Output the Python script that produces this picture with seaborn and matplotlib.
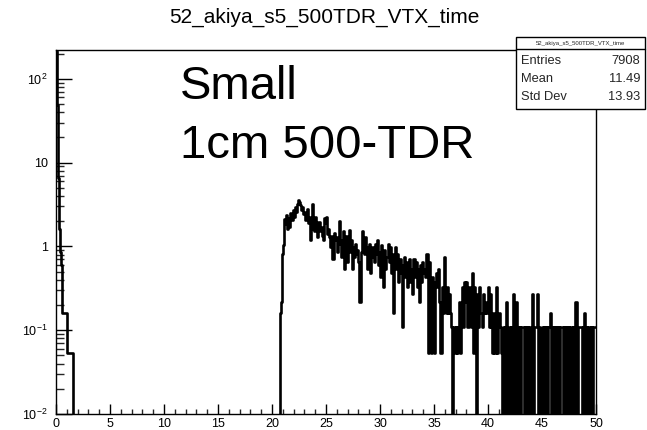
import numpy as np
import pandas as pd
import matplotlib
matplotlib.use("Agg")
import matplotlib.pyplot as plt
import seaborn as sns
from matplotlib.ticker import MultipleLocator, LogLocator, NullFormatter, FixedLocator, FixedFormatter
from matplotlib.patches import Rectangle
from matplotlib.lines import Line2D

# ---------------- data ----------------
title = "52_akiya_s5_500TDR_VTX_time"
x_min, x_max, n_bins = 0.0, 50.0, 500
bin_scale = 0.054          # weight of one entry
spike_counts = [4000, 900, 120, 30, 16, 11, 3, 3, 3, 3, 1, 1, 1, 1, 1, 1]   # bins 0..15
body_start = 207
body_counts = [
    3, 4, 15, 19, 39, 34, 44, 30, 40, 32,
    46, 38, 50, 42, 55, 48, 60, 67, 62, 58,
    50, 55, 45, 48, 38, 52, 35, 42, 22, 30,
    60, 36, 28, 42, 30, 24, 36, 28, 32, 25,
    22, 40, 35, 42, 26, 30, 24, 18, 25, 13,
    27, 22, 24, 16, 22, 37, 20, 14, 22, 28,
    10, 25, 12, 20, 29, 16, 22, 10, 18, 14,
    20, 15, 17, 12, 4, 16, 28, 20, 15, 24,
    18, 10, 16, 20, 9, 14, 18, 12, 20, 15,
    22, 11, 16, 8, 19, 12, 6, 17, 10, 14,
    20, 12, 18, 9, 15, 3, 12, 18, 10, 15,
    7, 13, 9, 2, 11, 14, 8, 12, 6, 10,
    13, 7, 10, 5, 13, 8, 12, 6, 10, 4,
    11, 7, 12, 9, 10, 8, 15, 1, 12, 6,
    1, 8, 5, 1, 7, 9, 6, 10, 4, 1,
    6, 3, 14, 5, 3, 6, 3, 5, 3, 2,
    0, 2, 1, 2, 1, 2, 4, 1, 3, 6,
    2, 7, 4, 7, 2, 6, 4, 2, 9, 1,
    6, 3, 0, 5, 2, 6, 3, 2, 5, 3,
    4, 3, 3, 6, 2, 5, 2, 1, 3, 1,
    6, 1, 2, 3, 2, 1, 0, 2, 0, 2,
    4, 0, 2, 0, 2, 0, 5, 2, 0, 4,
    2, 0, 2, 0, 2, 2, 0, 2, 0, 2,
    0, 2, 2, 0, 5, 0, 2, 2, 5, 0,
    2, 1, 0, 2, 0, 2, 0, 2, 0, 2,
    3, 0, 2, 0, 2, 0, 2, 0, 2, 0,
    2, 2, 0, 2, 0, 2, 0, 2, 0, 2,
    2, 0, 2, 0, 4, 0, 2, 2, 2, 2,
    0, 2, 3, 0, 2, 0, 2, 0, 2, 0,
    2, 2, 2,
]
stats_labels = ["Entries", "Mean", "Std Dev"]
stats_values = ["7908", "11.49", "13.93"]
annotation_lines = ["Small", "1cm 500-TDR"]
x_ticks = [0, 5, 10, 15, 20, 25, 30, 35, 40, 45, 50]
y_ticks = [1e-2, 1e-1, 1, 10, 100]
y_tick_labels = [r"$10^{-2}$", r"$10^{-1}$", "1", "10", r"$10^{2}$"]
y_min, y_max = 0.01, 221

# ---------------- build histogram table ----------------
bin_width = (x_max - x_min) / n_bins
edges = np.linspace(x_min, x_max, n_bins + 1)
centers = 0.5 * (edges[:-1] + edges[1:])
counts = np.zeros(n_bins)
counts[:len(spike_counts)] = spike_counts
counts[body_start:body_start + len(body_counts)] = body_counts
values = counts * bin_scale
draw_values = np.where(values > 0, values, 1e-6)   # empty bins drop below the frame on log axis
df = pd.DataFrame({"t": centers, "w": draw_values})

# ---------------- style ----------------
sns.set_style("white")
plt.rcParams["font.family"] = ["Liberation Sans", "DejaVu Sans"]
plt.rcParams["mathtext.default"] = "regular"

W, H = 647, 430
fig = plt.figure(figsize=(W / 100, H / 100), dpi=100)
fig.patch.set_facecolor("white")
ax = fig.add_axes([56 / W, 16 / H, 540 / W, 364 / H])
ax.set_facecolor("white")

sns.histplot(data=df, x="t", weights="w", binwidth=bin_width, binrange=(x_min, x_max),
             element="step", fill=False, color="black", linewidth=1.9, ax=ax)
ax.set_yscale("log")
ax.set_xlim(x_min, x_max)
ax.set_ylim(y_min, y_max)
ax.set_xlabel("")
ax.set_ylabel("")

for s in ax.spines.values():
    s.set_visible(True)
    s.set_color("black")
    s.set_linewidth(1.0)

ax.xaxis.set_major_locator(FixedLocator(x_ticks))
ax.xaxis.set_minor_locator(MultipleLocator(1))
ax.yaxis.set_major_locator(FixedLocator(y_ticks))
ax.yaxis.set_major_formatter(FixedFormatter(y_tick_labels))
ax.yaxis.set_minor_locator(LogLocator(base=10, subs=np.arange(2, 10)))
ax.yaxis.set_minor_formatter(NullFormatter())
ax.tick_params(axis="x", which="major", direction="in", length=7.5, width=1.0,
               top=False, bottom=True, labelsize=9, pad=3, colors="black")
ax.tick_params(axis="x", which="minor", direction="in", length=3.8, width=1.0, top=False, bottom=True)
ax.tick_params(axis="y", which="major", direction="in", length=11.5, width=1.0,
               left=True, right=False, labelsize=9, pad=6, colors="black")
ax.tick_params(axis="y", which="minor", direction="in", length=5.8, width=1.0, left=True, right=False)

# title
fig.text(324 / W, 1 - 17 / H, title, ha="center", va="center", fontsize=15, color="black")

# big annotation
fig.text(180 / W, 1 - 99 / H, annotation_lines[0], ha="left", va="baseline", fontsize=34, color="black")
fig.text(180 / W, 1 - 158 / H, annotation_lines[1], ha="left", va="baseline", fontsize=34, color="black")

# stats box
bx0, bx1, by0, by1, bsep = 516, 645, 37, 109, 49
fig.patches.append(Rectangle((bx0 / W, 1 - by1 / H), (bx1 - bx0) / W, (by1 - by0) / H,
                             transform=fig.transFigure, facecolor="white", edgecolor="black",
                             linewidth=1.0, zorder=5))
fig.lines.append(Line2D([bx0 / W, bx1 / W], [1 - bsep / H, 1 - bsep / H],
                        transform=fig.transFigure, color="black", linewidth=1.0, zorder=6))
fig.text((bx0 + bx1) / 2 / W, 1 - 43 / H, title, ha="center", va="center", fontsize=4.3, zorder=7)
row_y = [61, 79, 97]
for lab, val, yy in zip(stats_labels, stats_values, row_y):
    fig.text(521 / W, 1 - yy / H, lab, ha="left", va="center", fontsize=9.3, zorder=7)
    fig.text(640 / W, 1 - yy / H, val, ha="right", va="center", fontsize=9.3, zorder=7)

fig.savefig("out.png", dpi=100, facecolor="white")
